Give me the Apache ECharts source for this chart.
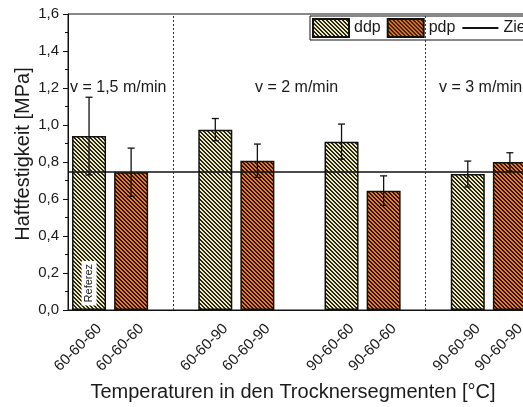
<!DOCTYPE html>
<html>
<head>
<meta charset="utf-8">
<script src="https://cdn.jsdelivr.net/npm/echarts@6/dist/echarts.min.js"></script>
<style>
  html, body { margin: 0; padding: 0; background: #fff; }
  #main { width: 523px; height: 407px; }
</style>
</head>
<body>
<div id="main"></div>
<script>
// Slots along the x axis; empty slots separate the speed groups
const slotLabels = ['60-60-60', '60-60-60', '', '60-60-90', '60-60-90', '',
                    '90-60-60', '90-60-60', '', '90-60-90', '90-60-90', ''];

// Adhesion strength [MPa], mean and standard deviation
const ddpSlots = [0, 3, 6, 9];
const ddpMean  = [0.94, 0.975, 0.91, 0.735];
const ddpErr   = [0.21, 0.06, 0.095, 0.07];

const pdpSlots = [1, 4, 7, 10];
const pdpMean  = [0.745, 0.807, 0.645, 0.80];
const pdpErr   = [0.13, 0.09, 0.08, 0.05];

const targetValue   = 0.75;     // Zielwert
const sectionBreaks = [2, 8];   // dotted separators between speeds
const speedLabels   = ['v = 1,5 m/min', 'v = 2 m/min', 'v = 3 m/min'];
const yTicks = [0, 0.2, 0.4, 0.6, 0.8, 1.0, 1.2, 1.4, 1.6];

const FONT = "'Liberation Sans', Arial, sans-serif";
const INK = '#1a1a1a';

// 4x4 tile with diagonal "\" hatching
function hatch(bg, fg) {
  const c = document.createElement('canvas');
  c.width = 4; c.height = 4;
  const ctx = c.getContext('2d');
  const img = ctx.createImageData(4, 4);
  const hex = h => [parseInt(h.slice(1, 3), 16), parseInt(h.slice(3, 5), 16), parseInt(h.slice(5, 7), 16)];
  const b = hex(bg), f = hex(fg);
  for (let y = 0; y < 4; y++) {
    for (let x = 0; x < 4; x++) {
      const col = ((x - y + 8) % 4) < 2 ? f : b;
      const i = (y * 4 + x) * 4;
      img.data[i] = col[0]; img.data[i + 1] = col[1]; img.data[i + 2] = col[2]; img.data[i + 3] = 255;
    }
  }
  ctx.putImageData(img, 0, 0);
  return { image: c, repeat: 'repeat' };
}

const ddpFill = hatch('#f0ecb4', '#262626');
const pdpFill = hatch('#ee781c', '#2a1808');

function slotSeries(slots, values) {
  const arr = slotLabels.map(() => '-');
  slots.forEach((s, i) => { arr[s] = values[i]; });
  return arr;
}

const errData = ddpSlots.map((s, i) => [s, ddpMean[i], ddpErr[i]])
  .concat(pdpSlots.map((s, i) => [s, pdpMean[i], pdpErr[i]]));

const chart = echarts.init(document.getElementById('main'), null, { renderer: 'canvas' });

const option = {
  animation: false,
  backgroundColor: '#fff',
  textStyle: { fontFamily: FONT, color: INK },
  grid: {
    left: 68, top: 14, width: 505, height: 296,
    containLabel: false,
    outerBoundsMode: 'none',
    show: true, borderColor: '#111', borderWidth: 1, backgroundColor: 'transparent'
  },
  legend: {
    data: [
      { name: 'ddp', icon: 'rect' },
      { name: 'pdp', icon: 'rect' },
      { name: 'Ziel', itemStyle: { opacity: 0 } }
    ],
    left: 310, top: 16,
    width: 330,
    orient: 'horizontal',
    padding: [2, 40, 2, 2],
    itemGap: 6,
    itemWidth: 36, itemHeight: 18,
    borderColor: '#111', borderWidth: 1,
    backgroundColor: '#fff',
    textStyle: { fontFamily: FONT, fontSize: 16, color: INK }
  },
  xAxis: [
    {
      type: 'category',
      data: slotLabels,
      position: 'bottom',
      axisLine: { lineStyle: { color: '#111', width: 1 } },
      axisTick: { alignWithLabel: true, length: 5, inside: false, lineStyle: { color: '#111' } },
      axisLabel: {
        rotate: 45, fontSize: 15, margin: 16, verticalAlign: 'top', padding: [0, -7, 0, 0],
        color: INK, fontFamily: FONT, interval: 0
      },
      splitLine: { show: false }
    },
    {
      type: 'category',
      data: slotLabels,
      position: 'bottom',
      axisLine: { show: false },
      axisTick: { length: 3, inside: false, lineStyle: { color: '#111' } },
      axisLabel: { show: false },
      splitLine: { show: false }
    }
  ],
  yAxis: {
    type: 'value',
    min: yTicks[0], max: yTicks[yTicks.length - 1], interval: 0.2,
    name: 'Haftfestigkeit [MPa]',
    nameLocation: 'middle',
    nameGap: 35,
    nameMoveOverlap: false,
    nameTextStyle: { fontSize: 20, color: INK, fontFamily: FONT, padding: [0, 0, 0, 16] },
    axisLine: { show: true, lineStyle: { color: '#111', width: 1 } },
    axisTick: { show: true, length: 5, inside: false, lineStyle: { color: '#111' } },
    minorTick: { show: true, splitNumber: 2, length: 3, lineStyle: { color: '#111' } },
    axisLabel: {
      fontSize: 15, margin: 9, color: INK, fontFamily: FONT,
      formatter: v => v.toFixed(1).replace('.', ',')
    },
    splitLine: { show: false }
  },
  series: [
    {
      name: 'ddp',
      type: 'bar',
      xAxisIndex: 0,
      data: slotSeries(ddpSlots, ddpMean),
      barWidth: 34,
      barGap: '-100%',
      itemStyle: { color: ddpFill, borderColor: '#111', borderWidth: 1.5 },
      z: 2
    },
    {
      name: 'pdp',
      type: 'bar',
      xAxisIndex: 0,
      data: slotSeries(pdpSlots, pdpMean),
      barWidth: 34,
      barGap: '-100%',
      itemStyle: { color: pdpFill, borderColor: '#111', borderWidth: 1.5 },
      z: 2
    },
    {
      name: 'err',
      type: 'custom',
      xAxisIndex: 0,
      data: errData,
      encode: { x: 0, y: 1 },
      z: 4,
      renderItem: (params, api) => {
        const x = api.value(0), m = api.value(1), e = api.value(2);
        const top = api.coord([x, m + e]);
        const bot = api.coord([x, m - e]);
        const hw = 3.5;
        const st = { stroke: '#111', lineWidth: 1.3 };
        return {
          type: 'group',
          children: [
            { type: 'line', shape: { x1: top[0], y1: top[1], x2: bot[0], y2: bot[1] }, style: st },
            { type: 'line', shape: { x1: top[0] - hw, y1: top[1], x2: top[0] + hw, y2: top[1] }, style: st },
            { type: 'line', shape: { x1: bot[0] - hw, y1: bot[1], x2: bot[0] + hw, y2: bot[1] }, style: st }
          ]
        };
      }
    },
    {
      name: 'Ziel',
      type: 'line',
      xAxisIndex: 0,
      data: slotLabels.map(() => '-'),
      symbol: 'none',
      lineStyle: { color: '#111', width: 1.5 },
      itemStyle: { color: '#111' },
      z: 5,
      markLine: {
        silent: true,
        symbol: ['none', 'none'],
        label: { show: false },
        data: [
          { yAxis: targetValue, lineStyle: { color: '#111', width: 1.5, type: 'solid' } }
        ].concat(sectionBreaks.map(b => ({
          xAxis: b, lineStyle: { color: '#333', width: 1, type: [2, 2] }
        })))
      }
    }
  ]
};

chart.setOption(option);

// Annotations placed relative to the axes
const labelY = chart.convertToPixel({ yAxisIndex: 0 }, 1.2);
const refPos = chart.convertToPixel({ xAxisIndex: 0, yAxisIndex: 0 }, [0, 0.145]);
const speedX = [70, 255, 439];

chart.setOption({
  graphic: speedLabels.map((t, i) => ({
    type: 'text',
    x: speedX[i], y: labelY,
    z: 10,
    style: {
      text: t, fontSize: 16, fontFamily: FONT, fill: INK,
      textAlign: 'left', textVerticalAlign: 'middle'
    }
  })).concat([
    {
      type: 'text',
      x: refPos[0], y: refPos[1],
      rotation: Math.PI / 2,
      z: 10,
      style: {
        text: 'Referez', fontSize: 11, fontFamily: FONT, fill: INK,
        textAlign: 'center', textVerticalAlign: 'middle',
        backgroundColor: '#fff', padding: [2, 3, 2, 3]
      }
    },
    {
      type: 'text',
      x: 293, y: 392,
      z: 10,
      style: {
        text: 'Temperaturen in den Trocknersegmenten [°C]', fontSize: 20, fontFamily: FONT, fill: INK,
        textAlign: 'center', textVerticalAlign: 'middle'
      }
    }
  ])
});
</script>
</body>
</html>
